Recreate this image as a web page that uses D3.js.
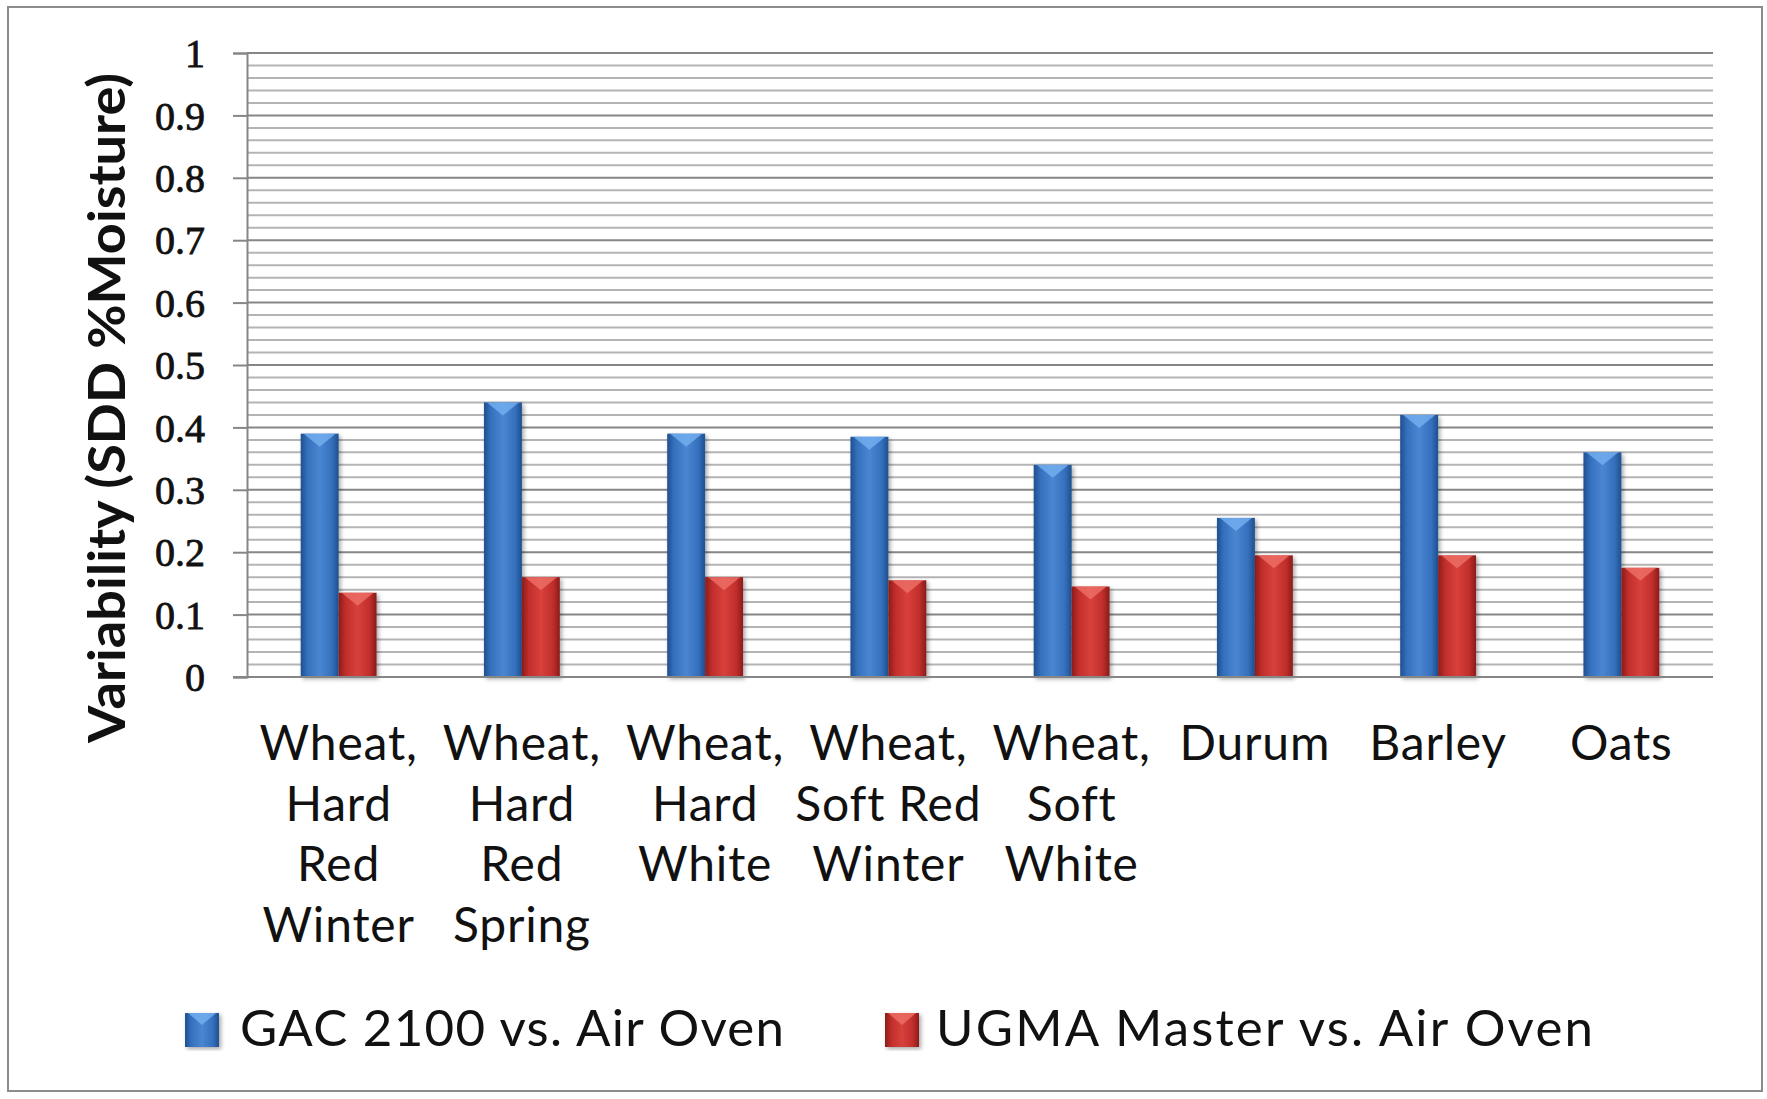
<!DOCTYPE html>
<html>
<head>
<meta charset="utf-8">
<script src="https://cdn.jsdelivr.net/npm/d3@7"></script>
<style>
  html, body { margin: 0; padding: 0; background: #fff; }
  svg { display: block; }
</style>
</head>
<body>
<svg id="chart" width="1767" height="1099"></svg>
<script>
// ---- data ----
const categories = [
  "Wheat, Hard Red Winter", "Wheat, Hard Red Spring", "Wheat, Hard White",
  "Wheat, Soft Red Winter", "Wheat, Soft White", "Durum", "Barley", "Oats"
];
const categoryLabelLines = [
  ["Wheat,", "Hard", "Red", "Winter"],
  ["Wheat,", "Hard", "Red", "Spring"],
  ["Wheat,", "Hard", "White"],
  ["Wheat,", "Soft Red", "Winter"],
  ["Wheat,", "Soft", "White"],
  ["Durum"],
  ["Barley"],
  ["Oats"]
];
const seriesNames = ["GAC 2100 vs. Air Oven", "UGMA Master vs. Air Oven"];
const gacValues  = [0.39, 0.44, 0.39, 0.385, 0.34, 0.255, 0.42, 0.36];
const ugmaValues = [0.135, 0.16, 0.16, 0.155, 0.145, 0.195, 0.195, 0.175];
const yTicks = [0, 0.1, 0.2, 0.3, 0.4, 0.5, 0.6, 0.7, 0.8, 0.9, 1];
const yTickLabels = ["0", "0.1", "0.2", "0.3", "0.4", "0.5", "0.6", "0.7", "0.8", "0.9", "1"];
const yTitle = "Variability (SDD %Moisture)";

// ---- layout ----
const svg = d3.select("#chart");
const plot = { left: 247, right: 1713, top: 53, bottom: 677 };

// outer frame
svg.append("rect")
  .attr("x", 8).attr("y", 7).attr("width", 1754).attr("height", 1084)
  .attr("fill", "#fff").attr("stroke", "#8c8c8c").attr("stroke-width", 2);

const defs = svg.append("defs");
function barGradient(id, dark, mid, light) {
  const g = defs.append("linearGradient").attr("id", id)
    .attr("x1", "0%").attr("x2", "100%").attr("y1", "0%").attr("y2", "0%");
  g.append("stop").attr("offset", "0%").attr("stop-color", dark);
  g.append("stop").attr("offset", "18%").attr("stop-color", mid);
  g.append("stop").attr("offset", "50%").attr("stop-color", light);
  g.append("stop").attr("offset", "82%").attr("stop-color", mid);
  g.append("stop").attr("offset", "100%").attr("stop-color", dark);
}
barGradient("gBlue", "#1f4f8f", "#3570bd", "#4a86d2");
barGradient("gRed", "#8a1c1a", "#c02e2b", "#d8403b");
const f = defs.append("filter").attr("id", "shadow")
  .attr("x", "-20%").attr("y", "-5%").attr("width", "150%").attr("height", "115%");
f.append("feDropShadow").attr("dx", 2).attr("dy", 2).attr("stdDeviation", 2)
  .attr("flood-color", "#000").attr("flood-opacity", 0.35);

// scales
const x = d3.scaleBand().domain(categories)
  .range([plot.left, plot.right]).paddingInner(0.586).paddingOuter(0.293);
const xSub = d3.scaleBand().domain(seriesNames).range([0, x.bandwidth()]).padding(0);
const y = d3.scaleLinear().domain([0, 1]).range([plot.bottom, plot.top]);

// gridlines (minor every 0.02, major every 0.1)
const minorTicks = d3.range(0, 51).map(i => i / 50);
svg.append("g").selectAll("line").data(minorTicks.filter((d, i) => i % 5 !== 0)).join("line")
  .attr("x1", plot.left).attr("x2", plot.right)
  .attr("y1", d => y(d)).attr("y2", d => y(d))
  .attr("stroke", "#b4b4b4").attr("stroke-width", 2);
svg.append("g").selectAll("line").data(yTicks).join("line")
  .attr("x1", plot.left).attr("x2", plot.right)
  .attr("y1", d => y(d)).attr("y2", d => y(d))
  .attr("stroke", "#868686").attr("stroke-width", 2);

// y axis
const yAxis = d3.axisLeft(y).tickValues(yTicks)
  .tickFormat((d, i) => yTickLabels[i]).tickSize(14).tickPadding(28);
const yg = svg.append("g").attr("transform", `translate(${plot.left},0)`).call(yAxis);
yg.select(".domain").attr("stroke", "#868686").attr("stroke-width", 2);
yg.selectAll(".tick line").attr("stroke", "#868686").attr("stroke-width", 2);
yg.selectAll(".tick text")
  .attr("font-family", "'Liberation Serif', 'Times New Roman', serif")
  .attr("font-weight", "normal").attr("font-size", 40).attr("fill", "#111")
  .attr("stroke", "#111").attr("stroke-width", 0.8)
  .attr("dy", "0.34em");

// bars
const series = [
  { name: seriesNames[0], values: gacValues, fill: "url(#gBlue)", tri: "#74b0f0" },
  { name: seriesNames[1], values: ugmaValues, fill: "url(#gRed)", tri: "#ee7068" }
];
series.forEach(s => {
  const g = svg.append("g").attr("filter", "url(#shadow)");
  const data = categories.map((c, i) => ({ c, v: s.values[i] }));
  g.selectAll("rect").data(data).join("rect")
    .attr("x", d => x(d.c) + xSub(s.name))
    .attr("y", d => y(d.v))
    .attr("width", xSub.bandwidth())
    .attr("height", d => y(0) - y(d.v))
    .attr("fill", s.fill);
  svg.append("g").selectAll("path").data(data).join("path")
    .attr("d", d => {
      const x0 = x(d.c) + xSub(s.name), w = xSub.bandwidth(), t = y(d.v);
      return `M${x0 + 3},${t} L${x0 + w - 3},${t} L${x0 + w / 2},${t + 13} Z`;
    })
    .attr("fill", s.tri).attr("opacity", 0.8);
});

// x axis line
svg.append("line").attr("x1", plot.left - 14).attr("x2", plot.right)
  .attr("y1", y(0)).attr("y2", y(0)).attr("stroke", "#868686").attr("stroke-width", 2);

// x labels
const xl = svg.append("g").attr("font-family", "Lato, 'Open Sans', sans-serif")
  .attr("font-size", 48).attr("letter-spacing", 0.8).attr("fill", "#111").attr("text-anchor", "middle");
categories.forEach((c, i) => {
  const cx = x(c) + x.bandwidth() / 2;
  const t = xl.append("text").attr("x", cx).attr("y", 760);
  categoryLabelLines[i].forEach((ln, j) => {
    t.append("tspan").attr("x", cx).attr("y", 760 + j * 60.7).text(ln);
  });
});

// y title
svg.append("text")
  .attr("transform", "translate(125,408) rotate(-90)")
  .attr("text-anchor", "middle")
  .attr("font-family", "Lato, 'Open Sans', sans-serif")
  .attr("font-weight", "bold").attr("font-size", 52).attr("fill", "#111")
  .attr("textLength", 670).attr("lengthAdjust", "spacingAndGlyphs")
  .text(yTitle);

// legend
const legend = [
  { name: seriesNames[0], fill: "url(#gBlue)", tri: "#74b0f0", mx: 185, tx: 240, len: 544 },
  { name: seriesNames[1], fill: "url(#gRed)", tri: "#ee7068", mx: 885, tx: 936, len: 657 }
];
const lg = svg.append("g");
legend.forEach(l => {
  lg.append("rect").attr("x", l.mx).attr("y", 1013).attr("width", 34).attr("height", 34)
    .attr("fill", l.fill).attr("filter", "url(#shadow)");
  lg.append("path")
    .attr("d", `M${l.mx + 3},1013 L${l.mx + 31},1013 L${l.mx + 17},1025 Z`)
    .attr("fill", l.tri).attr("opacity", 0.8);
  lg.append("text").attr("x", l.tx).attr("y", 1046)
    .attr("font-family", "Lato, 'Open Sans', sans-serif")
    .attr("font-size", 51).attr("fill", "#111")
    .attr("textLength", l.len).attr("lengthAdjust", "spacing")
    .text(l.name);
});
</script>
</body>
</html>
